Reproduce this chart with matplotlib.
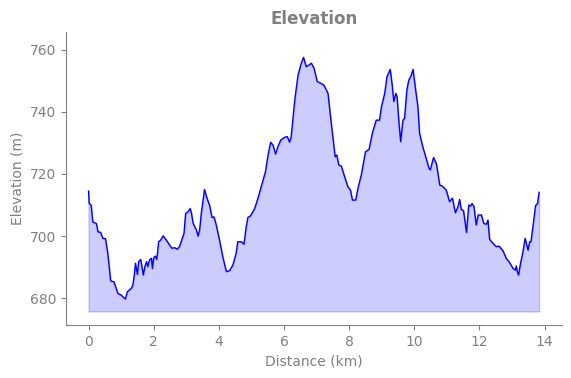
import numpy as np
import matplotlib
matplotlib.use("Agg")
import matplotlib.pyplot as plt

# elevation profile (km, m)
distance_km = [
    0.00, 0.02, 0.08, 0.13, 0.18, 0.24, 0.29, 0.37, 0.44, 0.52, 0.59, 0.68, 0.78, 0.90,
    1.00, 1.08, 1.13, 1.19, 1.31, 1.36, 1.41, 1.44, 1.50, 1.54, 1.60, 1.64, 1.68, 1.73,
    1.78, 1.82, 1.87, 1.93, 1.96, 2.00, 2.05, 2.09, 2.11, 2.15, 2.21, 2.29, 2.39, 2.49,
    2.56, 2.64, 2.72, 2.79, 2.86, 2.93, 2.98, 3.05, 3.12, 3.16, 3.21, 3.31, 3.36, 3.41,
    3.46, 3.56, 3.62, 3.72, 3.79, 3.85, 3.92, 4.02, 4.12, 4.23, 4.33, 4.43, 4.53, 4.58,
    4.69, 4.77, 4.84, 4.89, 4.97, 5.10, 5.20, 5.30, 5.43, 5.51, 5.59, 5.66, 5.74, 5.81,
    5.90, 6.02, 6.10, 6.17, 6.22, 6.33, 6.43, 6.53, 6.60, 6.68, 6.76, 6.84, 6.92, 7.02,
    7.14, 7.22, 7.30, 7.35, 7.45, 7.57, 7.62, 7.68, 7.76, 7.86, 7.96, 8.04, 8.10, 8.20,
    8.27, 8.37, 8.50, 8.61, 8.71, 8.83, 8.93, 8.99, 9.09, 9.16, 9.26, 9.32, 9.37, 9.43,
    9.47, 9.53, 9.58, 9.65, 9.70, 9.77, 9.83, 9.89, 9.96, 10.04, 10.11, 10.16, 10.26,
    10.35, 10.45, 10.49, 10.59, 10.68, 10.78, 10.86, 10.98, 11.08, 11.17, 11.26, 11.34,
    11.39, 11.44, 11.51, 11.60, 11.67, 11.73, 11.77, 11.83, 11.90, 11.96, 12.06, 12.13,
    12.21, 12.26, 12.31, 12.41, 12.52, 12.60, 12.72, 12.82, 12.93, 13.03, 13.10, 13.13,
    13.16, 13.20, 13.26, 13.33, 13.40, 13.49, 13.54, 13.58, 13.64, 13.72, 13.78, 13.83,
]
elevation_m = [
    714.5, 710.5, 710.0, 704.6, 704.3, 704.1, 701.4, 701.2, 699.3, 699.2, 694.5, 685.6, 685.3, 681.6,
    681.1, 680.2, 679.8, 682.1, 683.2, 684.3, 688.0, 691.3, 687.7, 691.8, 692.5, 690.2, 687.5, 690.2,
    691.8, 690.2, 692.3, 692.9, 689.6, 693.0, 693.6, 692.5, 693.9, 698.2, 698.7, 700.1, 698.7, 697.1,
    696.1, 696.3, 695.8, 696.6, 698.7, 700.9, 707.3, 707.8, 708.9, 707.3, 704.1, 702.0, 700.0, 702.0,
    707.3, 715.0, 712.7, 709.7, 706.0, 706.2, 703.6, 698.7, 693.4, 688.6, 688.9, 690.7, 694.5, 698.2,
    698.2, 697.4, 703.0, 706.0, 706.5, 708.9, 712.2, 715.9, 720.7, 726.1, 730.2, 729.3, 726.4, 728.7,
    730.9, 731.8, 732.0, 730.2, 732.0, 743.8, 751.8, 755.6, 757.5, 754.5, 755.0, 755.6, 754.0, 749.7,
    749.1, 748.6, 747.0, 745.9, 736.3, 725.5, 726.1, 722.9, 722.5, 719.1, 715.9, 714.8, 711.6, 711.6,
    715.4, 719.6, 727.1, 727.9, 733.1, 737.3, 737.3, 741.6, 745.9, 751.3, 753.6, 748.6, 743.3, 745.9,
    744.8, 736.3, 730.4, 737.3, 737.9, 747.0, 750.2, 751.3, 753.6, 747.0, 741.6, 733.1, 728.7,
    725.5, 721.8, 721.3, 725.3, 723.2, 716.4, 716.1, 714.8, 711.1, 712.2, 707.5, 709.5,
    711.8, 708.6, 708.2, 701.2, 710.0, 709.7, 710.5, 709.5, 703.6, 706.8, 706.8, 704.1,
    703.8, 705.2, 699.0, 697.7, 696.6, 696.8, 695.3, 692.9, 691.4, 689.6, 689.1, 690.4,
    688.6, 687.5, 691.3, 694.7, 699.3, 695.5, 698.2, 698.2, 703.0, 709.8, 710.5, 714.1,
]

dist = np.array(distance_km)
ele = np.array(elevation_m)
base = ele.min() - 4

grey = "#808080"

fig = plt.figure(figsize=(5.71, 3.78), dpi=100)
ax = fig.add_axes([0.1156, 0.14, 0.868, 0.775])

ax.fill_between(dist, ele, base, color="blue", alpha=0.2)
ax.plot(dist, ele, color="blue", linewidth=1)

ax.set_ylim(671.4, 765.6)
ax.set_yticks([680, 700, 720, 740, 760])
ax.set_xticks([0, 2, 4, 6, 8, 10, 12, 14])

ax.set_title("Elevation", color=grey, fontweight="bold", fontsize=12)
ax.set_xlabel("Distance (km)", color=grey)
ax.set_ylabel("Elevation (m)", color=grey)

# grey axes, no top/right spines
for side in ["top", "right"]:
    ax.spines[side].set_visible(False)
for side in ["left", "bottom"]:
    ax.spines[side].set_color(grey)
ax.tick_params(colors=grey, labelcolor=grey)

fig.savefig("out.png", dpi=100)
